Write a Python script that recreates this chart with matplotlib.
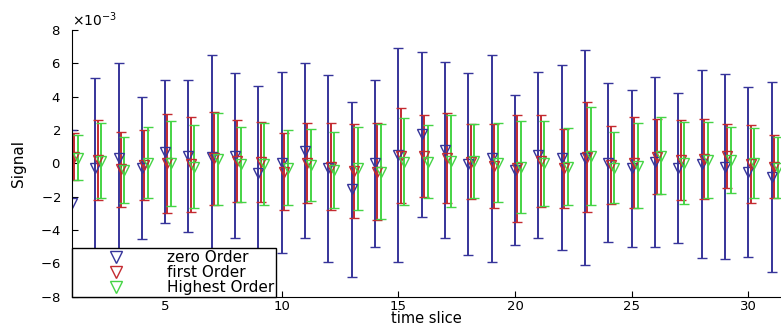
import numpy as np
from matplotlib import pyplot as plt
from matplotlib.ticker import ScalarFormatter

plt.rcParams["font.family"] = ["DejaVu Sans"]

# time slices and signal values (units of 1e-3)
t = np.arange(1, 32)

zero_mean = [-2.4, -0.3, 0.3, -0.3, 0.7, 0.45, 0.4, 0.45, -0.55, 0.05,
             0.75, -0.3, -1.55, 0.0, 0.5, 1.75, 0.8, -0.05, 0.3, -0.4,
             0.5, 0.35, 0.35, 0.05, -0.3, 0.1, -0.3, -0.05, -0.2, -0.5, -0.8]
zero_err = [4.4, 5.4, 5.7, 4.25, 4.3, 4.55, 6.1, 4.95, 5.2, 5.45,
            5.25, 5.6, 5.25, 5.0, 6.4, 4.95, 5.3, 5.45, 6.2, 4.5,
            5.0, 5.55, 6.45, 4.75, 4.7, 5.1, 4.5, 5.65, 5.55, 5.1, 5.7]

first_mean = [0.4, 0.2, -0.35, -0.1, 0.0, -0.05, 0.3, 0.15, 0.1, -0.5,
              0.0, -0.2, -0.45, -0.5, 0.45, 0.45, 0.3, 0.1, -0.15, -0.3,
              0.15, -0.3, 0.4, -0.1, 0.05, 0.4, 0.2, 0.25, 0.45, -0.05, -0.2]
first_err = [1.4, 2.4, 2.25, 2.1, 2.95, 2.85, 2.8, 2.45, 2.4, 2.3,
             2.4, 2.6, 2.8, 2.9, 2.85, 2.45, 2.7, 2.25, 2.5, 3.2,
             2.75, 2.35, 3.3, 2.35, 2.75, 2.25, 2.4, 2.4, 1.9, 2.35, 1.9]

high_mean = [0.35, 0.15, -0.4, 0.05, 0.0, -0.2, 0.25, -0.05, -0.05, -0.25,
             -0.1, -0.4, -0.3, -0.5, 0.1, 0.1, 0.15, 0.15, 0.05, -0.2,
             0.0, -0.2, 0.45, -0.25, -0.15, 0.45, 0.0, 0.2, 0.2, 0.0, -0.25]
high_err = [1.35, 2.25, 2.0, 2.15, 2.55, 2.5, 2.75, 2.25, 2.45, 2.25,
            2.15, 2.3, 2.5, 2.85, 2.6, 2.2, 2.75, 2.2, 2.35, 2.75,
            2.55, 2.3, 2.95, 2.15, 2.55, 2.3, 2.45, 2.3, 2.0, 2.1, 1.8]

scale = 1e-3
series = [
    (zero_mean, zero_err, 0.0, "#36349a", "zero Order"),
    (first_mean, first_err, 0.1, "#c42a30", "first Order"),
    (high_mean, high_err, 0.25, "#45d445", "Highest Order"),
]

fig = plt.figure(figsize=(7.81, 3.28), dpi=100)
ax = fig.add_axes([0.092, 0.095, 0.908, 0.814])

handles, labels = [], []
for mean, err, dx, c, label in series:
    eb = ax.errorbar(t + dx, np.array(mean) * scale, yerr=np.array(err) * scale,
                     fmt="v", mfc="none", mec=c, ms=7, mew=1.0, ecolor=c,
                     elinewidth=1.4, capsize=3.5, capthick=1.2)
    handles.append(eb[0])
    labels.append(label)

ax.set_xlim(1, 31.4)
ax.set_ylim(-8e-3, 8e-3)
ax.set_xticks([5, 10, 15, 20, 25, 30])
ax.set_yticks(np.arange(-8, 9, 2) * scale)

fmt = ScalarFormatter(useMathText=True)
fmt.set_powerlimits((-3, -3))
ax.yaxis.set_major_formatter(fmt)
ax.yaxis.get_offset_text().set_fontsize(10)

ax.tick_params(direction="in", labelsize=9.5, length=4)
ax.tick_params(axis="y", pad=8)
ax.tick_params(axis="x", pad=2)
ax.spines["top"].set_visible(False)
ax.spines["right"].set_visible(False)
ax.set_xlabel("time slice", fontsize=10.5, labelpad=-1)
ax.set_ylabel("Signal", fontsize=11, labelpad=10)

leg = ax.legend(handles, labels, loc="lower left", borderaxespad=0,
                fancybox=False, framealpha=1, edgecolor="black", fontsize=11,
                handlelength=5.6, handletextpad=0.5, borderpad=0.12,
                labelspacing=0.0, numpoints=1, markerscale=1.15)
leg.get_frame().set_linewidth(1.0)
leg.set_zorder(10)

plt.savefig("out.png", dpi=100)
